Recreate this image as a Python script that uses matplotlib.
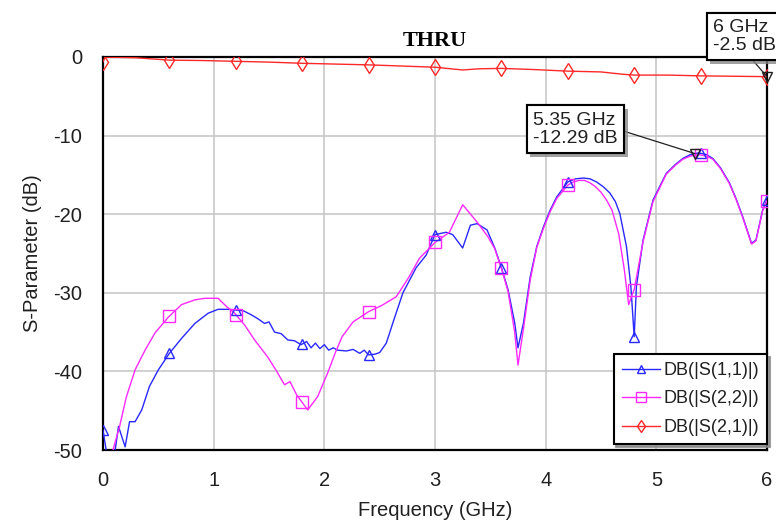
import numpy as np
import matplotlib
matplotlib.use("Agg")
import matplotlib.pyplot as plt
import matplotlib.patheffects as pe

# ---------------- data ----------------
f_s11 = [0.0, 0.04, 0.10, 0.14, 0.20, 0.24, 0.29, 0.35, 0.42, 0.50, 0.60, 0.71, 0.83, 0.95, 1.04,
         1.13, 1.21, 1.27, 1.34, 1.40, 1.46, 1.50, 1.55, 1.61, 1.67, 1.73, 1.79, 1.84, 1.88, 1.92,
         1.96, 2.00, 2.04, 2.08, 2.12, 2.20, 2.26, 2.32, 2.36, 2.40, 2.46, 2.50, 2.56, 2.62, 2.71,
         2.83, 2.92, 3.00, 3.10, 3.16, 3.25, 3.32, 3.38, 3.47, 3.54, 3.60, 3.66, 3.72, 3.75, 3.80,
         3.86, 3.92, 3.98, 4.04, 4.10, 4.20, 4.27, 4.34, 4.40, 4.46, 4.52, 4.58, 4.63, 4.67, 4.73, 4.77, 4.80, 4.82, 4.88,
         4.97, 5.09, 5.17, 5.24, 5.31, 5.38, 5.45, 5.51, 5.58, 5.66, 5.72, 5.78, 5.86, 5.90, 5.96, 6.00]
s11_db = [-47.5, -51.0, -51.0, -47.0, -49.6, -46.4, -46.4, -44.9, -41.9, -39.8, -37.7, -35.8, -33.9, -32.6, -32.1,
          -32.1, -32.2, -32.3, -32.8, -33.3, -33.9, -33.7, -35.0, -35.2, -36.0, -36.1, -36.6, -36.2, -37.0, -36.4,
          -37.1, -36.6, -37.3, -37.0, -37.3, -37.4, -37.2, -37.7, -37.3, -37.9, -37.8, -37.6, -36.4, -33.8, -30.0,
          -26.8, -25.2, -22.6, -22.3, -22.6, -24.3, -21.4, -21.2, -22.0, -24.3, -26.8, -29.6, -33.8, -37.0, -33.8,
          -28.0, -24.1, -21.6, -19.5, -17.8, -15.9, -15.5, -15.4, -15.5, -15.9, -16.5, -17.3, -18.4, -19.9, -24.1, -29.2, -35.6, -29.2, -23.3,
          -18.2, -14.8, -13.7, -12.9, -12.4, -12.2, -12.4, -12.9, -14.1, -16.0, -18.0, -20.3, -23.7, -23.3, -19.5, -18.2]

f_s22 = [0.07, 0.09, 0.15, 0.21, 0.29, 0.38, 0.47, 0.59, 0.71, 0.83, 0.92, 1.04, 1.12, 1.19, 1.28,
         1.37, 1.49, 1.57, 1.64, 1.69, 1.75, 1.85, 1.94, 2.03, 2.10, 2.16, 2.26, 2.40, 2.52, 2.65,
         2.76, 2.86, 3.00, 3.13, 3.25, 3.38, 3.48, 3.54, 3.60, 3.66, 3.72, 3.75, 3.80, 3.86, 3.92,
         3.98, 4.04, 4.10, 4.20, 4.25, 4.30, 4.35, 4.40, 4.45, 4.50, 4.55, 4.60, 4.66, 4.71, 4.75, 4.78, 4.80, 4.83, 4.88,
         4.97, 5.09, 5.17, 5.24, 5.31, 5.38, 5.45, 5.51, 5.58, 5.66, 5.72, 5.78, 5.86, 5.90, 5.96, 6.00]
s22_db = [-51.0, -50.0, -47.0, -43.3, -39.8, -37.3, -35.1, -33.1, -31.5, -30.9, -30.7, -30.7, -31.8, -32.6, -34.1,
          -36.0, -38.2, -40.0, -41.7, -41.3, -43.0, -44.9, -43.2, -40.2, -37.6, -35.6, -33.7, -32.4, -31.6, -30.5,
          -28.1, -25.6, -23.6, -22.3, -18.8, -21.0, -22.9, -24.4, -26.9, -29.8, -35.0, -39.2, -34.5, -28.4, -24.2,
          -21.8, -19.7, -18.0, -16.3, -15.9, -15.7, -15.7, -16.0, -16.5, -17.2, -18.2, -19.5, -22.5, -27.0, -31.5, -30.3, -29.6, -27.3, -23.5,
          -18.4, -14.9, -13.8, -13.0, -12.6, -12.4, -12.6, -13.0, -14.2, -16.1, -18.1, -20.4, -23.8, -23.4, -19.6, -18.3]

f_s21 = [0.0, 0.02, 0.15, 0.30, 0.60, 0.90, 1.20, 1.50, 1.80, 2.10, 2.40, 2.70, 3.00, 3.25, 3.40,
         3.60, 3.90, 4.20, 4.50, 4.70, 4.80, 5.10, 5.40, 5.70, 6.00]
s21_db = [-0.6, -0.02, -0.05, -0.1, -0.4, -0.45, -0.55, -0.65, -0.8, -0.9, -1.0, -1.15, -1.3, -1.65, -1.5,
          -1.45, -1.6, -1.8, -1.9, -2.2, -2.3, -2.3, -2.4, -2.45, -2.5]

marker_freqs = [0.0, 0.6, 1.2, 1.8, 2.4, 3.0, 3.6, 4.2, 4.8, 5.4, 6.0]

labels = ["DB(|S(1,1)|)", "DB(|S(2,2)|)", "DB(|S(2,1)|)"]
x_ticks = [0, 1, 2, 3, 4, 5, 6]
y_ticks = [0, -10, -20, -30, -40, -50]

mk1_f, mk1_db = 5.35, -12.29
mk2_f, mk2_db = 6.0, -2.5

# ---------------- plot ----------------
plt.rcParams['font.family'] = ['Liberation Sans', 'DejaVu Sans']
plt.rcParams['axes.unicode_minus'] = False
fig = plt.figure(figsize=(7.76, 5.21), dpi=100)
ax = fig.add_axes([103/776, 1-450/521, 664/776, 393/521])

c_blue = '#2828ff'
c_mag = '#ff28ff'
c_red = '#ff2828'

series = [
    (f_s11, s11_db, c_blue, '^', 7.5),
    (f_s22, s22_db, c_mag, 's', 9),
    (f_s21, s21_db, c_red, 'd', 8),
]
handles = []
for (fx, dy, col, mk, ms), lab in zip(series, labels):
    ax.plot(fx, dy, color=col, lw=1.0, zorder=3)
    mf = np.array(marker_freqs)
    mv = np.interp(mf, fx, dy, left=np.nan)
    ax.plot(mf, mv, ls='none', marker=mk, ms=ms, mfc='none', mec=col, mew=1.0, zorder=4)
    h, = ax.plot([], [], color=col, lw=1.0, marker=mk, ms=ms*0.8, mfc='none', mec=col, mew=1.0)
    handles.append(h)

ax.set_xlim(0, 6)
ax.set_ylim(-50, 0)
ax.set_xticks(x_ticks)
ax.set_yticks(y_ticks)
ax.grid(True, color='#c8c8c8', lw=1.2, zorder=0)
ax.set_axisbelow(True)
ax.tick_params(length=0, pad=15, labelsize=14.5, colors='#202020')
for s in ax.spines.values():
    s.set_color('black')
    s.set_linewidth(1.6)

ax.set_xlabel("Frequency (GHz)", fontsize=14.5, color='#202020', labelpad=8)
ax.set_ylabel("S-Parameter (dB)", fontsize=14.5, color='#202020', labelpad=8)
ax.set_title("THRU", fontsize=16, fontweight='bold', family='Liberation Serif', pad=8)

shadow = [pe.withSimplePatchShadow(offset=(2.5, -2.5), shadow_rgbFace='#888888', alpha=0.8), pe.Normal()]

# marker 1
ax.plot([mk1_f], [mk1_db], marker='v', ms=7, mfc='none', mec='#202020', mew=1.0, ls='none', zorder=6)
a1 = ax.annotate(f"{mk1_f} GHz\n{mk1_db} dB", xy=(mk1_f, mk1_db), xytext=(4.27, -9.2),
                 ha='center', va='center', multialignment='left', fontsize=14, color='#202020',
                 linespacing=1.08,
                 bbox=dict(boxstyle='square,pad=0.34', fc='white', ec='black', lw=1.5),
                 arrowprops=dict(arrowstyle='-', color='#202020', lw=0.9, relpos=(1, 0.5),
                                 shrinkA=0, shrinkB=0), zorder=7)
a1.get_bbox_patch().set_path_effects(shadow)

# marker 2
ax.plot([mk2_f], [mk2_db], marker='v', ms=7, mfc='none', mec='#202020', mew=1.0, ls='none',
        zorder=6, clip_on=False)
a2 = ax.annotate(f"{mk2_f:g} GHz\n{mk2_db} dB", xy=(mk2_f, mk2_db), xytext=(5.51, 2.6),
                 ha='left', va='center', multialignment='left', fontsize=14, color='#202020',
                 linespacing=1.08,
                 bbox=dict(boxstyle='square,pad=0.32', fc='white', ec='black', lw=1.5),
                 arrowprops=dict(arrowstyle='-', color='#202020', lw=0.9, relpos=(0.55, 0),
                                 shrinkA=0, shrinkB=0), zorder=7, annotation_clip=False)
a2.get_bbox_patch().set_path_effects(shadow)

leg = ax.legend(handles, labels, loc='lower right', bbox_to_anchor=(1.0, 0.015), fontsize=13,
                frameon=True, fancybox=False, shadow={'color': '#888888', 'alpha': 0.8},
                handlelength=2.1, handletextpad=0.2, labelspacing=0.64, borderpad=0.45,
                borderaxespad=0)
leg.get_frame().set_edgecolor('black')
leg.get_frame().set_linewidth(1.5)
leg.set_zorder(10)
for t in leg.get_texts():
    t.set_color('#202020')

fig.savefig("out.png", dpi=100)
